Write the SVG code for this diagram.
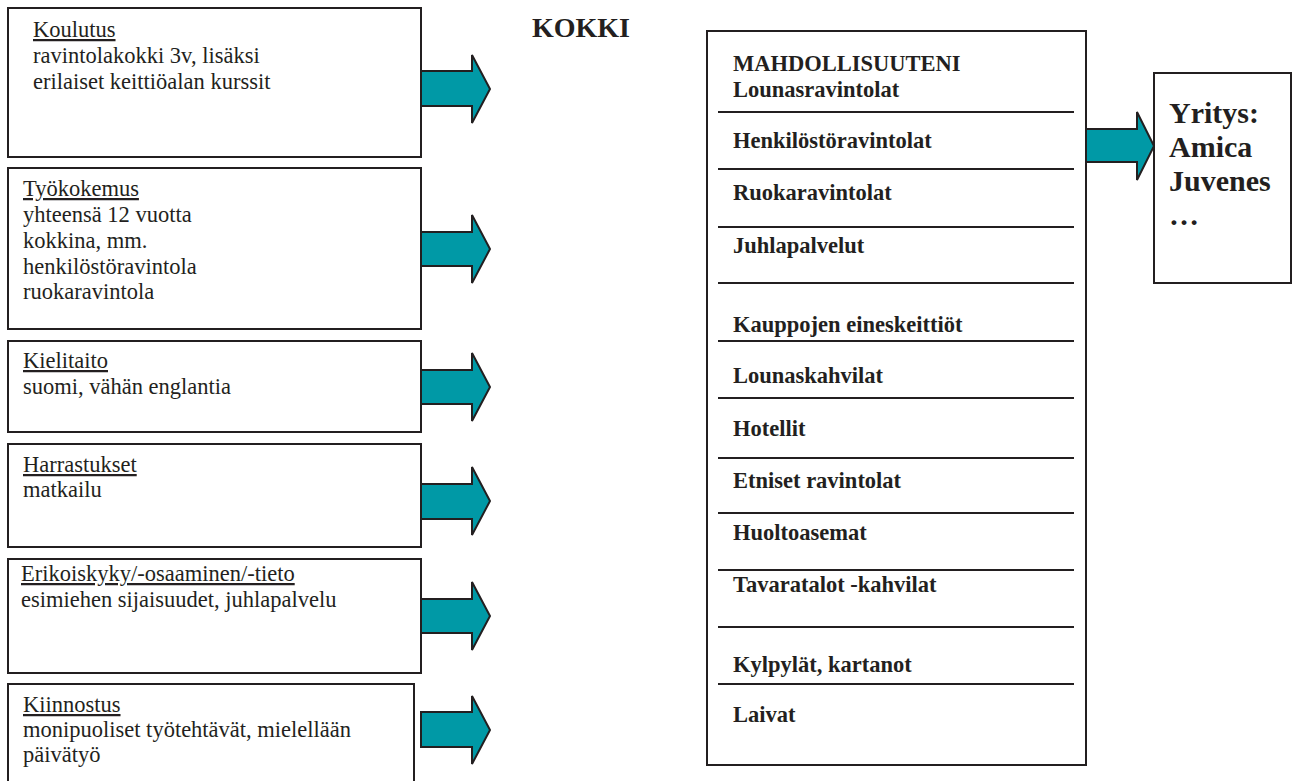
<svg xmlns="http://www.w3.org/2000/svg" width="1292" height="781" viewBox="0 0 1292 781">
<style>
.box{fill:#fff;stroke:#231f20;stroke-width:2}
.t{font-family:"Liberation Serif","Times New Roman",serif;font-size:22.5px;fill:#231f20}
.b{font-weight:bold}
.u{text-decoration:underline}
.sep{stroke:#231f20;stroke-width:2}
.arr{fill:#0099a6;stroke:#231f20;stroke-width:2;stroke-linejoin:miter}
</style>
<rect width="1292" height="781" fill="#fff"/>
<text x="532" y="37" class="t b" style="font-size:28px">KOKKI</text>

<g id="koulutus">
<rect class="box" x="8" y="8" width="413" height="149"/>
<text class="t"><tspan x="33" y="37" class="u">Koulutus</tspan><tspan x="33" y="63">ravintolakokki 3v, lisäksi</tspan><tspan x="33" y="89">erilaiset keittiöalan kurssit</tspan></text>
</g>
<g id="tyokokemus">
<rect class="box" x="8" y="168" width="413" height="161"/>
<text class="t"><tspan x="23" y="196" class="u">Työkokemus</tspan><tspan x="23" y="222">yhteensä 12 vuotta</tspan><tspan x="23" y="248">kokkina, mm.</tspan><tspan x="23" y="273.5">henkilöstöravintola</tspan><tspan x="23" y="299">ruokaravintola</tspan></text>
</g>
<g id="kielitaito">
<rect class="box" x="8" y="341" width="413" height="91"/>
<text class="t"><tspan x="23" y="368" class="u">Kielitaito</tspan><tspan x="23" y="394">suomi, vähän englantia</tspan></text>
</g>
<g id="harrastukset">
<rect class="box" x="8" y="444" width="413" height="103"/>
<text class="t"><tspan x="23" y="472" class="u">Harrastukset</tspan><tspan x="23" y="497">matkailu</tspan></text>
</g>
<g id="erikoiskyky">
<rect class="box" x="8" y="559" width="413" height="114"/>
<text class="t"><tspan x="21" y="581" class="u">Erikoiskyky/-osaaminen/-tieto</tspan><tspan x="21" y="607">esimiehen sijaisuudet, juhlapalvelu</tspan></text>
</g>
<g id="kiinnostus">
<rect class="box" x="8" y="684" width="406" height="120"/>
<text class="t"><tspan x="23" y="712" class="u">Kiinnostus</tspan><tspan x="23" y="737">monipuoliset työtehtävät, mielellään</tspan><tspan x="23" y="762">päivätyö</tspan></text>
</g>

<g id="mahdollisuudet">
<rect class="box" x="707" y="31" width="379" height="734"/>
<g class="sep">
<line x1="718" y1="112" x2="1074" y2="112"/>
<line x1="718" y1="169" x2="1074" y2="169"/>
<line x1="718" y1="227" x2="1074" y2="227"/>
<line x1="718" y1="283" x2="1074" y2="283"/>
<line x1="718" y1="341" x2="1074" y2="341"/>
<line x1="718" y1="398" x2="1074" y2="398"/>
<line x1="718" y1="458" x2="1074" y2="458"/>
<line x1="718" y1="513" x2="1074" y2="513"/>
<line x1="718" y1="570" x2="1074" y2="570"/>
<line x1="718" y1="627" x2="1074" y2="627"/>
<line x1="718" y1="684" x2="1074" y2="684"/>
</g>
<text class="t b" x="733">
<tspan x="733" y="71">MAHDOLLISUUTENI</tspan>
<tspan x="733" y="97">Lounasravintolat</tspan>
<tspan x="733" y="148">Henkilöstöravintolat</tspan>
<tspan x="733" y="200">Ruokaravintolat</tspan>
<tspan x="733" y="253">Juhlapalvelut</tspan>
<tspan x="733" y="332">Kauppojen eineskeittiöt</tspan>
<tspan x="733" y="383">Lounaskahvilat</tspan>
<tspan x="733" y="436">Hotellit</tspan>
<tspan x="733" y="488">Etniset ravintolat</tspan>
<tspan x="733" y="540">Huoltoasemat</tspan>
<tspan x="733" y="592">Tavaratalot -kahvilat</tspan>
<tspan x="733" y="672">Kylpylät, kartanot</tspan>
<tspan x="733" y="722">Laivat</tspan>
</text>
</g>

<g id="yritys">
<rect class="box" x="1154" y="73" width="137" height="210"/>
<text class="t b" style="font-size:30px"><tspan x="1169" y="123">Yritys:</tspan><tspan x="1169" y="157">Amica</tspan><tspan x="1169" y="191">Juvenes</tspan><tspan x="1169" y="225">…</tspan></text>
</g>

<g id="connectors">
<polygon class="arr" points="421,71 472,71 472,55 490,89 472,123 472,106 421,106"/>
<polygon class="arr" points="421,232 472,232 472,215 490,249 472,283 472,266 421,266"/>
<polygon class="arr" points="421,370 472,370 472,353 490,387 472,421 472,404 421,404"/>
<polygon class="arr" points="421,484 472,484 472,467 490,501 472,535 472,519 421,519"/>
<polygon class="arr" points="421,599 472,599 472,582 490,616 472,650 472,633 421,633"/>
<polygon class="arr" points="421,712 472,712 472,696 490,730 472,764 472,747 421,747"/>
<polygon class="arr" points="1086,129 1137,129 1137,112 1154,146 1137,180 1137,162 1086,162"/>
</g>
</svg>
